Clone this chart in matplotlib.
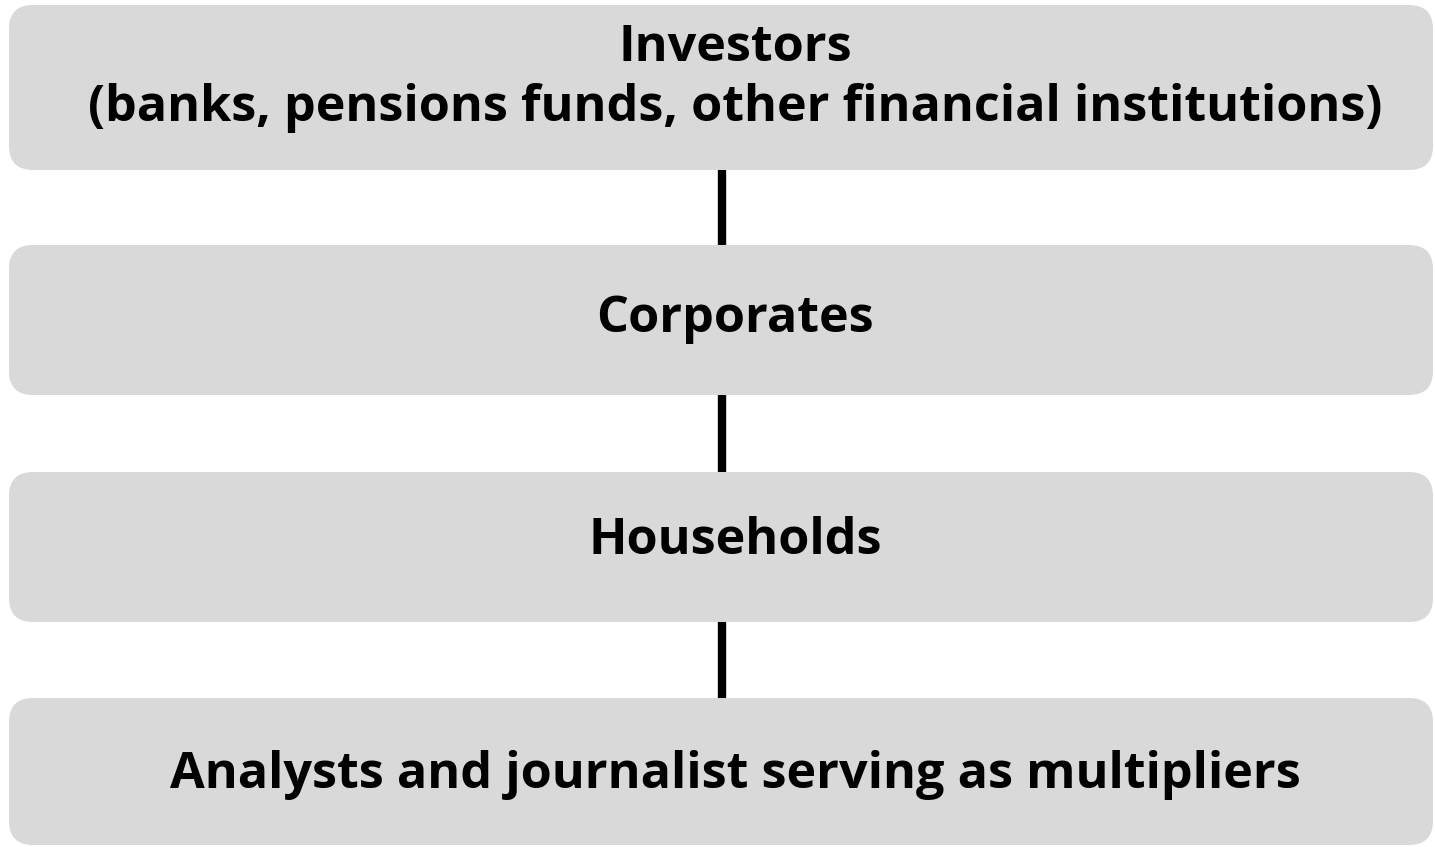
import matplotlib.pyplot as plt
from matplotlib.patches import FancyBboxPatch

# boxes of the stakeholder chain, top to bottom
labels = [
    "Investors\n(banks, pensions funds, other financial institutions)",
    "Corporates",
    "Households",
    "Analysts and journalist serving as multipliers",
]

W, H = 1435, 847
fig = plt.figure(figsize=(W / 100, H / 100), dpi=100)
ax = fig.add_axes([0, 0, 1, 1])
ax.set_xlim(0, W)
ax.set_ylim(H, 0)
ax.axis('off')

# layout in pixels (top, bottom of each box)
box_y = [(5, 170), (245, 395), (472, 622), (698, 845)]
text_y = [78, 319, 541, 775]
x0, x1 = 9, 1433
rad = 24
line_x = 722

for i, lab in enumerate(labels):
    top, bot = box_y[i]
    p = FancyBboxPatch((x0 + rad, top + rad), (x1 - x0) - 2 * rad, (bot - top) - 2 * rad,
                       boxstyle="round,pad=%d,rounding_size=%d" % (rad, rad),
                       fc='#d9d9d9', ec='none')
    ax.add_patch(p)
    ax.text(735, text_y[i], lab, ha='center', va='center', fontsize=36.3,
            fontweight='bold', family='Open Sans', linespacing=1.28, color='black')
    if i < len(labels) - 1:
        ax.plot([line_x, line_x], [bot, box_y[i + 1][0]], color='black', lw=6,
                solid_capstyle='butt')

fig.savefig('out.png', dpi=100)
